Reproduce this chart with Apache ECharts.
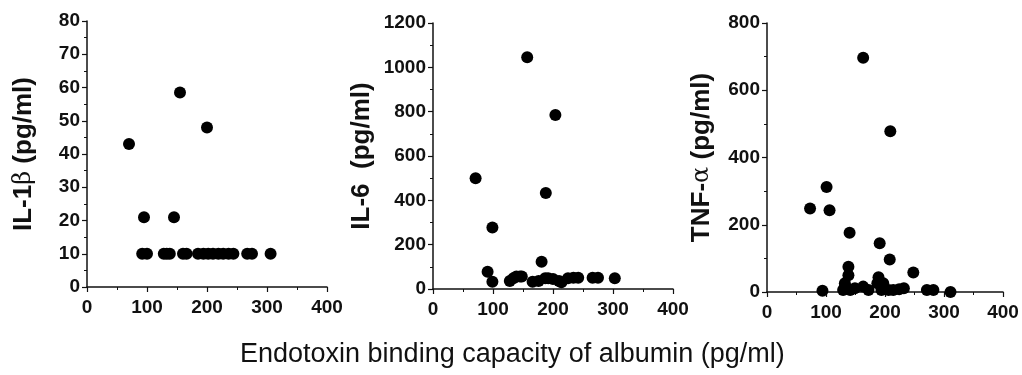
<!DOCTYPE html>
<html>
<head>
<meta charset="utf-8">
<script src="https://cdn.jsdelivr.net/npm/echarts@6/dist/echarts.min.js"></script>
<style>
  html, body { margin: 0; padding: 0; background: #fff; }
  #chart { width: 1022px; height: 375px; }
</style>
</head>
<body>
<div id="chart"></div>
<script>
// values
const xTicks = [0, 400, 100];

const il1bX = [70, 155, 200, 95, 145, 92, 100, 128, 133, 138, 160, 166, 185, 194, 202, 210, 219, 227, 236, 244, 267, 275, 306];
const il1bY = [43, 58.5, 48, 21, 21, 10, 10, 10, 10, 10, 10, 10, 10, 10, 10, 10, 10, 10, 10, 10, 10, 10, 10];

const il6X = [71, 157, 204, 188, 99, 181, 91, 99, 128, 134, 139, 145, 148, 166, 176, 187, 192, 200, 210, 214, 225, 234, 242, 266, 275, 303];
const il6Y = [500, 1045, 785, 433, 277, 123, 78, 33, 36, 48, 56, 56, 56, 33, 36, 48, 48, 45, 36, 30, 48, 51, 51, 51, 51, 48];

const tnfX = [163, 209, 101, 73, 106, 140, 191, 208, 248, 138, 138, 132, 132, 129, 141, 149, 163, 172, 189, 187, 197, 194, 206, 214, 224, 232, 94, 271, 282, 311];
const tnfY = [697, 478, 312, 248, 243, 176, 145, 97, 58, 75, 50, 26, 16, 6, 6, 11, 16, 6, 44, 26, 26, 6, 6, 6, 8, 11, 4, 6, 6, 0];

const yRanges = [[0, 80, 10], [0, 1200, 200], [0, 800, 200]];
const yNames = [
  "{b|IL-1}{g|β}{b| (pg/ml)}",
  "{b|IL-6  (pg/ml)}",
  "{b|TNF-}{g|α}{b| (pg/ml)}",
];
const nameGaps = [50, 58, 52];
const xTitle = "Endotoxin binding capacity of albumin (pg/ml)";

const font = "'Liberation Sans', Arial, sans-serif";

const zip = (xs, ys) => xs.map((x, i) => [x, ys[i]]);
const panels = [zip(il1bX, il1bY), zip(il6X, il6Y), zip(tnfX, tnfY)];

const axisBits = {
  axisLine: { lineStyle: { color: "#111", width: 1.5 } },
  axisTick: { inside: false, length: 5, lineStyle: { color: "#111", width: 1.2 } },
  minorTick: { show: true, splitNumber: 2, length: 3, lineStyle: { color: "#111", width: 1 } },
  splitLine: { show: false },
};

const tickLabel = (margin) => ({
  color: "#111",
  fontFamily: font,
  fontWeight: "bold",
  fontSize: 19,
  margin: margin,
  formatter: (v) => String(v),
});

const chart = echarts.init(document.getElementById("chart"));

chart.setOption({
  animation: false,
  backgroundColor: "#fff",
  grid: [
    { left: 87, top: 21, width: 240, height: 266 },
    { left: 433, top: 23, width: 240, height: 266 },
    { left: 767, top: 23, width: 236, height: 269 },
  ],
  xAxis: panels.map((_, i) => ({
    type: "value",
    gridIndex: i,
    min: xTicks[0],
    max: xTicks[1],
    interval: xTicks[2],
    ...axisBits,
    axisLabel: tickLabel(11),
  })),
  yAxis: panels.map((_, i) => ({
    type: "value",
    gridIndex: i,
    min: yRanges[i][0],
    max: yRanges[i][1],
    interval: yRanges[i][2],
    ...axisBits,
    axisLabel: tickLabel(7),
    name: yNames[i],
    nameLocation: "middle",
    nameGap: nameGaps[i],
    nameRotate: 90,
    nameTextStyle: {
      rich: {
        b: { fontFamily: font, fontWeight: "bold", fontSize: 26, color: "#111" },
        g: { fontFamily: "'DejaVu Serif', serif", fontSize: 24, color: "#111" },
      },
    },
  })),
  graphic: [
    {
      type: "text",
      left: 240,
      top: 341,
      style: {
        text: xTitle,
        fontFamily: font,
        fontSize: 27,
        fill: "#111",
      },
    },
  ],
  series: panels.map((pts, i) => ({
    type: "scatter",
    xAxisIndex: i,
    yAxisIndex: i,
    data: pts,
    symbol: "circle",
    symbolSize: 12,
    itemStyle: { color: "#000", opacity: 1 },
  })),
});
</script>
</body>
</html>
